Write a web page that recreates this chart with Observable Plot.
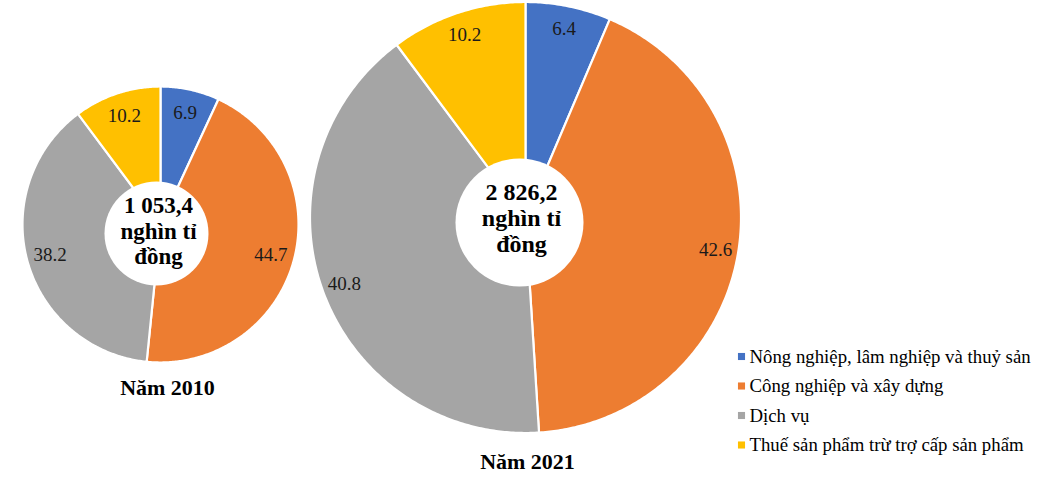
<!DOCTYPE html>
<html>
<head>
<meta charset="utf-8">
<script src="https://cdn.jsdelivr.net/npm/d3@7"></script>
<script src="https://cdn.jsdelivr.net/npm/@observablehq/plot@0.6"></script>
<style>
  html, body { margin: 0; padding: 0; background: #fff; }
  #chart svg { display: block; }
  #chart svg, #chart svg text, #chart svg g { font-family: "Liberation Serif", "Times New Roman", serif !important; }
</style>
</head>
<body>
<div id="chart"></div>
<script>
// ---- Data ----
const categories = [
  "Nông nghiệp, lâm nghiệp và thuỷ sản",
  "Công nghiệp và xây dựng",
  "Dịch vụ",
  "Thuế sản phẩm trừ trợ cấp sản phẩm"
];
const years = ["Năm 2010", "Năm 2021"];
const totalLabels = ["1 053,4", "2 826,2"];
const share2010 = [6.9, 44.7, 38.2, 10.2];
const share2021 = [6.4, 42.6, 40.8, 10.2];
const colors = ["#4472C4", "#ED7D31", "#A5A5A5", "#FFC000"];

// ---- Layout (pixel space) ----
const W = 1047, H = 483;
const layout = [
  {cx: 160, cy: 224, r: 138, labelR: 0.83, holeX: 156, holeY: 233, holeR: 52, textY: 230, titleX: 167, titleY: 387},
  {cx: 525, cy: 217, r: 215.5, labelR: 0.895, holeX: 519, holeY: 222, holeR: 64, textY: 217, titleX: 527, titleY: 461}
];
const seriesList = [share2010, share2021];

const pie = d3.pie().sort(null).value(d => d.v);
const slicePts = [], labels = [], holes = [], centerTexts = [], titles = [];
seriesList.forEach((vals, k) => {
  const L = layout[k];
  const arcs = pie(vals.map((v, i) => ({v, i})));
  arcs.forEach(a => {
    const key = years[k] + "-" + a.data.i;
    slicePts.push({key, cat: categories[a.data.i], x: L.cx, y: L.cy});
    const n = Math.max(2, Math.ceil((a.endAngle - a.startAngle) / 0.01));
    for (let j = 0; j <= n; j++) {
      const t = a.startAngle + (a.endAngle - a.startAngle) * j / n;
      slicePts.push({key, cat: categories[a.data.i], x: L.cx + L.r * Math.sin(t), y: L.cy - L.r * Math.cos(t)});
    }
    const m = (a.startAngle + a.endAngle) / 2;
    labels.push({x: L.cx + L.r * L.labelR * Math.sin(m), y: L.cy - L.r * L.labelR * Math.cos(m), text: String(a.data.v)});
  });
  holes.push({x: L.holeX, y: L.holeY, r: L.holeR});
  centerTexts.push({x: L.holeX + 2, y: L.textY, text: totalLabels[k] + "\nnghìn tỉ\nđồng"});
  titles.push({x: L.titleX, y: L.titleY, text: years[k]});
});

const legend = categories.map((c, i) => ({cat: c, x: 741, y: 356 + i * 29.5}));

const serif = "Liberation Serif";

const chart = Plot.plot({
  width: W,
  height: H,
  margin: 0,
  x: {domain: [0, W], range: [0, W], axis: null},
  y: {domain: [0, H], range: [0, H], axis: null},
  color: {domain: categories, range: colors},
  r: {type: "identity"},
  style: {background: "#fff"},
  marks: [
    Plot.line(slicePts, {x: "x", y: "y", z: "key", fill: "cat", stroke: "#fff", strokeWidth: 2.2, strokeLinejoin: "round", curve: "linear-closed"}),
    Plot.dot(holes, {x: "x", y: "y", r: "r", fill: "#fff", stroke: "none"}),
    Plot.text(labels, {x: "x", y: "y", text: "text", fontSize: 19, fill: "#1a1a1a", fontFamily: serif}),
    Plot.text(centerTexts.slice(0, 1), {x: "x", y: "y", text: "text", fontSize: 23, fontWeight: "bold", lineHeight: 1.09, lineAnchor: "middle", fill: "#000", fontFamily: serif}),
    Plot.text(centerTexts.slice(1), {x: "x", y: "y", text: "text", fontSize: 24, fontWeight: "bold", lineHeight: 1.09, lineAnchor: "middle", fill: "#000", fontFamily: serif}),
    Plot.text(titles, {x: "x", y: "y", text: "text", fontSize: 22, fontWeight: "bold", fill: "#000", fontFamily: serif}),
    Plot.dot(legend, {x: "x", y: "y", symbol: "square", r: 4, fill: "cat", stroke: "none"}),
    Plot.text(legend, {x: "x", y: "y", text: "cat", dx: 8, textAnchor: "start", fontSize: 18.8, fill: "#000", fontFamily: serif})
  ]
});
document.getElementById("chart").appendChild(chart);
</script>
</body>
</html>
